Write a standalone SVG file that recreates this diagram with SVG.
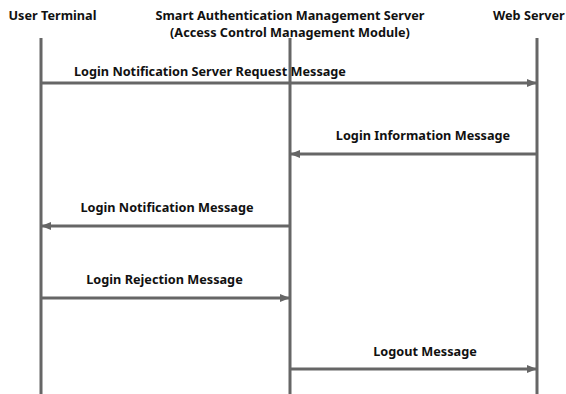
<svg xmlns="http://www.w3.org/2000/svg" width="566" height="394" viewBox="0 0 566 394">
<style>
text{font-family:"Noto Sans","Liberation Sans",sans-serif;font-weight:bold;font-size:12.7px;fill:#111}
.life{stroke:#666;stroke-width:3;fill:none}
.msg{stroke:#666;stroke-width:3;fill:none}
</style>
<defs>
<marker id="ah" markerWidth="10" markerHeight="8" refX="9" refY="4" orient="auto" markerUnits="userSpaceOnUse">
<path d="M0,0 L10,4 L0,8 Z" fill="#666"/>
</marker>
</defs>
<rect width="566" height="394" fill="#fff"/>
<g id="user-terminal">
<text x="52.5" y="20" text-anchor="middle">User Terminal</text>
<line class="life" x1="41" y1="38" x2="41" y2="394"/>
</g>
<g id="smart-auth-server">
<text x="290" y="20" text-anchor="middle">Smart Authentication Management Server</text>
<text x="290" y="36.5" text-anchor="middle">(Access Control Management Module)</text>
<line class="life" x1="290" y1="38" x2="290" y2="394"/>
</g>
<g id="web-server">
<text x="493" y="20">Web Server</text>
<line class="life" x1="537" y1="38" x2="537" y2="394"/>
</g>
<g id="connectors">
<line class="msg" x1="41" y1="83" x2="536" y2="83" marker-end="url(#ah)"/>
<text x="74" y="76">Login Notification Server Request Message</text>
<line class="msg" x1="537" y1="154" x2="291" y2="154" marker-end="url(#ah)"/>
<text x="423" y="140" text-anchor="middle">Login Information Message</text>
<line class="msg" x1="290" y1="226" x2="42" y2="226" marker-end="url(#ah)"/>
<text x="167" y="212" text-anchor="middle">Login Notification Message</text>
<line class="msg" x1="41" y1="298" x2="289" y2="298" marker-end="url(#ah)"/>
<text x="164.5" y="284" text-anchor="middle">Login Rejection Message</text>
<line class="msg" x1="290" y1="369" x2="536" y2="369" marker-end="url(#ah)"/>
<text x="425" y="356" text-anchor="middle">Logout Message</text>
</g>
</svg>
